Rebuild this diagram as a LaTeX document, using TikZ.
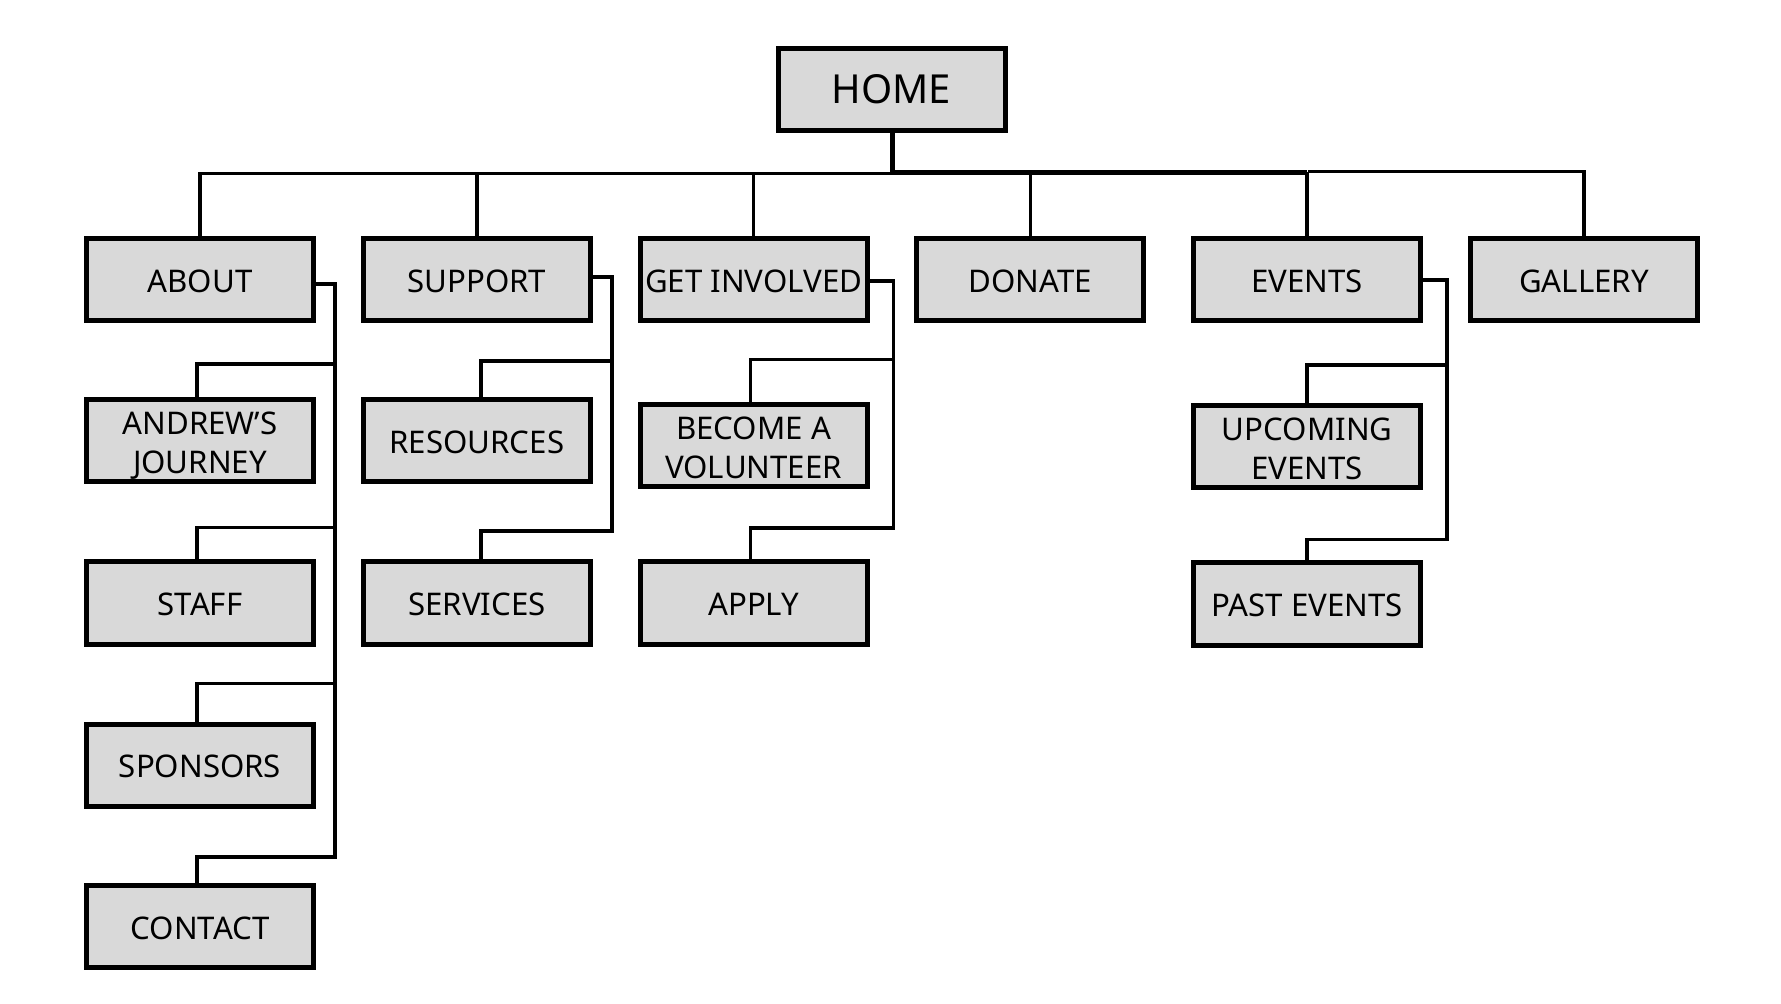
\documentclass[tikz,border=0pt]{standalone}
\usepackage{fontspec}
\setmainfont{Noto Sans}
\newcommand{\tline}[1]{\raisebox{-0.7pt}[\height][0pt]{#1}}
\begin{document}
\begin{tikzpicture}[x=0.5pt,y=-0.5pt,
  box/.style={draw=black,line width=2.5pt,fill=boxgray,minimum width=113.5pt,minimum height=41pt,inner sep=0pt,align=center,font=\fontsize{15.6}{19.5}\selectfont},
  homebox/.style={box,font=\fontsize{20}{24}\selectfont},
  conn/.style={line width=1.75pt,line join=miter},
  thick conn/.style={line width=2.6pt,line join=miter}]
\definecolor{boxgray}{HTML}{D9D9D9}
\useasboundingbox (0,0) rectangle (1781,1004);
% nodes
\node[homebox] (home) at (891.5,89.5) {HOME};
\node[box] (about) at (200,279.5) {\tline{ABOUT}};
\node[box] (support) at (476.8,279.5) {\tline{SUPPORT}};
\node[box] (involved) at (753.6,279.5) {\tline{GET INVOLVED}};
\node[box] (donate) at (1030.4,279.5) {\tline{DONATE}};
\node[box] (events) at (1307.2,279.5) {\tline{EVENTS}};
\node[box] (gallery) at (1584,279.5) {\tline{GALLERY}};
\node[box] (andrew) at (200,441) {\tline{ANDREW’S}\\\tline{JOURNEY}};
\node[box] (staff) at (200,603) {\tline{STAFF}};
\node[box] (sponsors) at (200,765) {\tline{SPONSORS}};
\node[box] (contact) at (200,926.5) {\tline{CONTACT}};
\node[box] (resources) at (476.8,441) {\tline{RESOURCES}};
\node[box] (services) at (476.8,603) {\tline{SERVICES}};
\node[box] (volunteer) at (753.6,446) {\tline{BECOME A}\\\tline{VOLUNTEER}};
\node[box] (apply) at (753.6,603) {\tline{APPLY}};
\node[box] (upcoming) at (1307.2,447) {\tline{UPCOMING}\\\tline{EVENTS}};
\node[box] (past) at (1307.2,604) {\tline{PAST EVENTS}};
% top bus
\coordinate (hb) at (892.5,172.5);
\coordinate (hl) at (892.5,173.5);
\coordinate (hr) at (1307.5,171.5);
\draw[thick conn] (home.south -| hb) -- (hb) -- (hb -| events.north);
\draw[conn] (hl) -| (about.north);
\draw[conn] (hl -| support.north) -- (support.north);
\draw[conn] (hl -| involved.north) -- (involved.north);
\draw[conn] (hb -| donate.north) -- (donate.north);
\draw[conn] (hb -| events.north) -- (events.north);
\draw[conn] (hr) -| (gallery.north);
% about
\coordinate (ab0) at (335,284);
\coordinate (ab1) at (335,364);
\coordinate (ab2) at (335,527.5);
\coordinate (ab3) at (335,683.5);
\coordinate (ab4) at (335,857);
\draw[conn] (about.east |- ab0) -- (ab0) -- (ab4) -| ([xshift=-1.5pt]contact.north);
\draw[conn] (ab1) -| ([xshift=-1.5pt]andrew.north);
\draw[conn] (ab2) -| ([xshift=-1.5pt]staff.north);
\draw[conn] (ab3) -| ([xshift=-1.5pt]sponsors.north);
% support
\coordinate (sb0) at (612,277);
\coordinate (sb1) at (612,361);
\coordinate (sb2) at (612,531);
\draw[conn] (support.east |- sb0) -- (sb0) -- (sb2) -| ([xshift=2pt]services.north);
\draw[conn] (sb1) -| ([xshift=2pt]resources.north);
% get involved
\coordinate (gb0) at (893.5,281);
\coordinate (gb1) at (893.5,359.5);
\coordinate (gb2) at (893.5,528);
\draw[conn] (involved.east |- gb0) -- (gb0) -- (gb2) -| ([xshift=-1.5pt]apply.north);
\draw[conn] (gb1) -| ([xshift=-1.5pt]volunteer.north);
% events
\coordinate (eb0) at (1447,280);
\coordinate (eb1) at (1447,365);
\coordinate (eb2) at (1447,539.5);
\draw[conn] (events.east |- eb0) -- (eb0) -- (eb2) -| (past.north);
\draw[conn] (eb1) -| (upcoming.north);
\end{tikzpicture}
\end{document}
